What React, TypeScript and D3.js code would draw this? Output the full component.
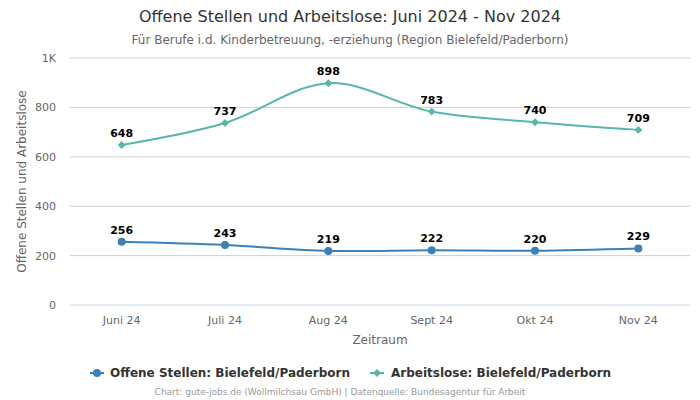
import React from "react";
import * as d3 from "d3";

const categories = ["Juni 24", "Juli 24", "Aug 24", "Sept 24", "Okt 24", "Nov 24"];
const offeneStellen = [256, 243, 219, 222, 220, 229];
const arbeitslose = [648, 737, 898, 783, 740, 709];
const yTicks = [0, 200, 400, 600, 800, 1000];
const yTickLabels = ["0", "200", "400", "600", "800", "1K"];
const seriesNames = ["Offene Stellen: Bielefeld/Paderborn", "Arbeitslose: Bielefeld/Paderborn"];
const colors = ["#3a80ba", "#5ab5ac"];

const W = 700, H = 400;
const left = 70, right = 690, top = 58, bottom = 305;
const FONT = "'DejaVu Sans', sans-serif";

export default function App() {
  const x = d3.scaleBand<string>().domain(categories).range([left, right]);
  const y = d3.scaleLinear().domain([0, 1000]).range([bottom, top]);
  const cx = (c: string) => (x(c) as number) + x.bandwidth() / 2;
  const line = d3
    .line<number>()
    .x((_, i) => cx(categories[i]))
    .y((d) => y(d))
    .curve(d3.curveCatmullRom.alpha(0.5));
  const diamond = d3.symbol().type(d3.symbolDiamond2).size(40)();
  const series = [offeneStellen, arbeitslose];

  return (
    <svg width={W} height={H} style={{ position: "absolute", left: 0, top: 0 }} fontFamily={FONT}>
      <rect width={W} height={H} fill="#fff" />
      <text x={W / 2} y={22} textAnchor="middle" fontSize={16} fill="#333">
        Offene Stellen und Arbeitslose: Juni 2024 - Nov 2024
      </text>
      <text x={W / 2} y={44} textAnchor="middle" fontSize={12} fill="#666">
        Für Berufe i.d. Kinderbetreuung, -erziehung (Region Bielefeld/Paderborn)
      </text>
      {yTicks.map((t, i) => (
        <g key={t}>
          <line x1={left} x2={right} y1={y(t)} y2={y(t)} stroke={i === 0 ? "#ccd6eb" : "#d0d0d0"} strokeWidth={1} />
          <text x={56} y={y(t) + 4} textAnchor="end" fontSize={11} fill="#666">
            {yTickLabels[i]}
          </text>
        </g>
      ))}
      <text
        transform={`translate(26,${(top + bottom) / 2}) rotate(-90)`}
        textAnchor="middle"
        fontSize={12}
        fill="#666"
      >
        Offene Stellen und Arbeitslose
      </text>
      {categories.map((c) => (
        <text key={c} x={cx(c)} y={324} textAnchor="middle" fontSize={11} fill="#666">
          {c}
        </text>
      ))}
      <text x={(left + right) / 2} y={344} textAnchor="middle" fontSize={12} fill="#666">
        Zeitraum
      </text>
      {series.map((s, si) => (
        <g key={si}>
          <path d={line(s) || ""} fill="none" stroke={colors[si]} strokeWidth={2} />
          {s.map((v, i) =>
            si === 0 ? (
              <circle key={i} cx={cx(categories[i])} cy={y(v)} r={4} fill={colors[si]} />
            ) : (
              <path key={i} d={diamond || ""} transform={`translate(${cx(categories[i])},${y(v)})`} fill={colors[si]} />
            )
          )}
          {s.map((v, i) => (
            <text
              key={"l" + i}
              x={cx(categories[i])}
              y={y(v) - 8}
              textAnchor="middle"
              fontSize={11}
              fontWeight="bold"
              fill="#000"
            >
              {v}
            </text>
          ))}
        </g>
      ))}
      <g>
        <line x1={90} x2={104} y1={373} y2={373} stroke={colors[0]} strokeWidth={2} />
        <circle cx={97} cy={373} r={4} fill={colors[0]} />
        <text x={110} y={377} fontSize={12} fontWeight="bold" fill="#333">
          {seriesNames[0]}
        </text>
        <line x1={370} x2={384} y1={373} y2={373} stroke={colors[1]} strokeWidth={2} />
        <path d={diamond || ""} transform="translate(377,373)" fill={colors[1]} />
        <text x={391} y={377} fontSize={12} fontWeight="bold" fill="#333">
          {seriesNames[1]}
        </text>
      </g>
      <text x={W / 2 - 10} y={395} textAnchor="middle" fontSize={9} fill="#999">
        Chart: gute-jobs.de (Wollmilchsau GmbH) | Datenquelle: Bundesagentur für Arbeit
      </text>
    </svg>
  );
}
